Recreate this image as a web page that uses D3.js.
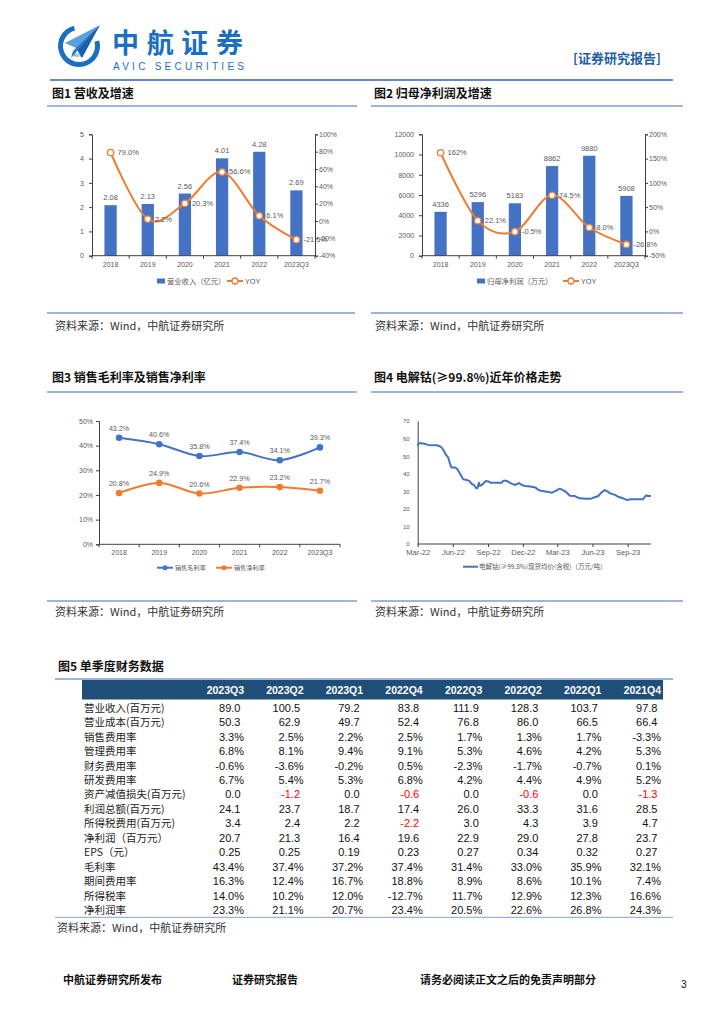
<!DOCTYPE html>
<html><head><meta charset="utf-8">
<script src="https://cdn.jsdelivr.net/npm/d3@7"></script>
<style>body{margin:0;background:#fff}svg{display:block}</style>
</head><body><svg id="page" width="724" height="1024"></svg>
<script>
// ---------------- DATA ----------------
const years = ["2018","2019","2020","2021","2022","2023Q3"];
const revenue = [2.08,2.13,2.56,4.01,4.28,2.69];
const revenueYoy = [79.0,2.2,20.3,56.6,6.1,-21.5];
const revenueTicks = [0,1,2,3,4,5];
const revenueYoyTicks = [-40,-20,0,20,40,60,80,100];
const netProfit = [4336,5296,5183,8862,9880,5908];
const netProfitYoy = [162,22.1,-0.5,74.5,8.0,-26.8];
const netProfitYoyLabels = ["162%","22.1%","-0.5%","74.5%","8.0%","-26.8%"];
const netProfitTicks = [0,2000,4000,6000,8000,10000,12000];
const netProfitYoyTicks = [-50,0,50,100,150,200];
const grossMargin = [43.2,40.6,35.8,37.4,34.1,39.3];
const netMargin = [20.8,24.9,20.6,22.9,23.2,21.7];
const marginTicks = [0,10,20,30,40,50];
const cobaltDates = ["2022-03-01","2022-03-04","2022-03-20","2022-03-28","2022-04-20","2022-04-28","2022-05-03","2022-05-07","2022-05-14","2022-05-20","2022-05-24","2022-05-28","2022-06-07","2022-06-13","2022-06-20","2022-06-28","2022-07-07","2022-07-14","2022-07-20","2022-07-26","2022-08-01","2022-08-04","2022-08-08","2022-08-11","2022-08-16","2022-08-20","2022-08-26","2022-09-03","2022-09-07","2022-09-24","2022-10-07","2022-10-11","2022-10-20","2022-10-27","2022-11-03","2022-11-11","2022-11-20","2022-11-28","2022-12-07","2022-12-20","2023-01-03","2023-01-11","2023-01-20","2023-02-03","2023-02-15","2023-02-24","2023-03-07","2023-03-16","2023-03-24","2023-04-03","2023-04-16","2023-04-28","2023-05-16","2023-05-28","2023-06-07","2023-06-16","2023-06-24","2023-07-03","2023-07-11","2023-07-17","2023-07-28","2023-08-07","2023-08-20","2023-08-31","2023-09-07","2023-09-24","2023-10-11","2023-10-16","2023-10-20","2023-10-24","2023-11-01"];
const cobaltPrice = [55.8,57.5,57.0,56.4,56.2,55.6,54.8,53.5,50.7,49.1,46.0,43.6,43.5,42.5,39.8,36.8,36.4,35.9,34.2,33.6,31.7,31.7,34.9,33.0,33.8,34.5,35.9,35.5,34.9,34.9,34.9,36.0,36.0,34.9,34.2,33.6,34.7,33.6,33.0,32.7,32.1,30.7,30.1,29.8,29.2,30.1,31.5,30.7,29.6,27.5,27.3,26.0,25.8,25.8,26.6,27.3,29.2,30.7,29.8,28.8,28.1,26.9,26.0,25.0,25.4,25.4,25.4,26.9,27.7,27.3,27.3];
const cobaltTickDates = ["2022-03-01","2022-06-01","2022-09-01","2022-12-01","2023-03-01","2023-06-01","2023-09-01"];
const cobaltDomain = ["2022-03-01","2023-11-01"];
const cobaltTicks = [0,10,20,30,40,50,60,70];
const quarters = ["2023Q3","2023Q2","2023Q1","2022Q4","2022Q3","2022Q2","2022Q1","2021Q4"];
const rowNames = ["营业收入(百万元)","营业成本(百万元)","销售费用率","管理费用率","财务费用率","研发费用率","资产减值损失(百万元)","利润总额(百万元)","所得税费用(百万元)","净利润（百万元）","EPS（元）","毛利率","期间费用率","所得税率","净利润率"];
const rowRevenue = ["89.0","100.5","79.2","83.8","111.9","128.3","103.7","97.8"];
const rowCost = ["50.3","62.9","49.7","52.4","76.8","86.0","66.5","66.4"];
const rowSellRate = ["3.3%","2.5%","2.2%","2.5%","1.7%","1.3%","1.7%","-3.3%"];
const rowMgmtRate = ["6.8%","8.1%","9.4%","9.1%","5.3%","4.6%","4.2%","5.3%"];
const rowFinRate = ["-0.6%","-3.6%","-0.2%","0.5%","-2.3%","-1.7%","-0.7%","0.1%"];
const rowRdRate = ["6.7%","5.4%","5.3%","6.8%","4.2%","4.4%","4.9%","5.2%"];
const rowImpair = ["0.0","-1.2","0.0","-0.6","0.0","-0.6","0.0","-1.3"];
const rowTotalProfit = ["24.1","23.7","18.7","17.4","26.0","33.3","31.6","28.5"];
const rowTax = ["3.4","2.4","2.2","-2.2","3.0","4.3","3.9","4.7"];
const rowNetProfit = ["20.7","21.3","16.4","19.6","22.9","29.0","27.8","23.7"];
const rowEps = ["0.25","0.25","0.19","0.23","0.27","0.34","0.32","0.27"];
const rowGross = ["43.4%","37.4%","37.2%","37.4%","31.4%","33.0%","35.9%","32.1%"];
const rowPeriodRate = ["16.3%","12.4%","16.7%","18.8%","8.9%","8.6%","10.1%","7.4%"];
const rowTaxRate = ["14.0%","10.2%","12.0%","-12.7%","11.7%","12.9%","12.3%","16.6%"];
const rowNetRate = ["23.3%","21.1%","20.7%","23.4%","20.5%","22.6%","26.8%","24.3%"];
const redRows = ["资产减值损失(百万元)","所得税费用(百万元)"];

// ---------------- PAGE ----------------
const LAT = "'Liberation Sans', Arial, 'Noto Sans CJK SC', sans-serif";
const CJK = "'Noto Sans CJK SC', 'Liberation Sans', sans-serif";
const BLUE = "#4472C4", ORANGE = "#ED7D31", TXT = "#595959", AX = "#404040", RULE = "#7f9bcf";
const svg = d3.select("#page");
svg.append("rect").attr("width",724).attr("height",1024).attr("fill","#fff");

// Header logo
const logo = svg.append("g").attr("transform","translate(79,46)");
logo.append("path").attr("d", d3.arc()({innerRadius:16, outerRadius:21, startAngle:1.3, endAngle:2*Math.PI-0.25})).attr("fill","#1a6fc0");
logo.append("path").attr("d","M21,-21 L-14,-3 L-3,2 Z").attr("fill","#5aa0dc");
logo.append("path").attr("d","M21,-21 L-3,2 L3,12 Z").attr("fill","#1a5fae");
logo.append("path").attr("d","M21,-21 L-6,5 L-8,12 Z").attr("fill","#2a78c8");
logo.append("text").attr("x",-1).attr("y",11).attr("font-size",4.5).attr("font-family",LAT).attr("fill","#1a6fc0").attr("text-anchor","middle").text("AVIC");
svg.append("text").attr("x",112).attr("y",52.5).attr("font-size",27).attr("font-weight","bold").attr("font-family",CJK).attr("fill","#1b6fc1").attr("textLength",131).text("中航证券");
svg.append("text").attr("x",113).attr("y",69.5).attr("font-size",10).attr("font-family",LAT).attr("fill","#1b6fc1").attr("textLength",131).text("AVIC  SECURITIES");
svg.append("text").attr("x",573).attr("y",63).attr("font-size",13).attr("font-weight","bold").attr("font-family",CJK).attr("fill","#1f5fa8").attr("textLength",88).text("[证券研究报告]");
svg.append("line").attr("x1",50).attr("x2",673).attr("y1",80).attr("y2",80).attr("stroke","#3266b0").attr("stroke-width",1.6);

function hline(x1,x2,y,color,w){svg.append("line").attr("x1",x1).attr("x2",x2).attr("y1",y).attr("y2",y).attr("stroke",color||RULE).attr("stroke-width",w||1.5);}
function title(x,y,t){svg.append("text").attr("x",x).attr("y",y).attr("font-size",12).attr("font-weight","bold").attr("font-family",CJK).attr("fill","#111").text(t);}
function source(x,y){svg.append("text").attr("x",x).attr("y",y).attr("font-size",11).attr("font-family",CJK).attr("fill","#333").text("资料来源：Wind，中航证券研究所");}

title(52,98,"图1  营收及增速"); title(374,98,"图2  归母净利润及增速");
hline(47,357,106); hline(371,683,106);
hline(47,355,313); hline(371,683,313);
source(55,330); source(375,330);
title(52,382,"图3  销售毛利率及销售净利率"); title(374,382,"图4  电解钴(≥99.8%)近年价格走势");
hline(47,357,392); hline(371,683,392);
hline(47,357,601); hline(371,683,601);
source(55,616); source(375,616);

function styleAxis(g,fs){
  g.select(".domain").attr("stroke",AX);
  g.selectAll(".tick line").attr("stroke",AX);
  g.selectAll(".tick text").attr("fill",TXT).attr("font-size",fs).attr("font-family",LAT);
}
function catAxis(g,x,y0,fs){
  const r = x.range();
  g.append("line").attr("x1",r[0]).attr("x2",r[1]).attr("y1",y0).attr("y2",y0).attr("stroke",AX);
  const bounds = x.domain().map(d=>x(d)).concat([r[1]]);
  g.selectAll("line.tk").data(bounds).join("line").attr("class","tk").attr("x1",d=>d).attr("x2",d=>d).attr("y1",y0).attr("y2",y0+3).attr("stroke",AX);
  g.selectAll("text.cl").data(x.domain()).join("text").attr("class","cl")
    .attr("x",d=>x(d)+x.bandwidth()/2).attr("y",y0+11).attr("text-anchor","middle")
    .attr("font-size",fs).attr("font-family",LAT).attr("fill",TXT).text(d=>d);
}

function barLine(o){
  const g = svg.append("g");
  const x = d3.scaleBand().domain(years).range([o.x0,o.x1]);
  const yL = d3.scaleLinear().domain(o.lDom).range([o.yb,o.yt]);
  const yR = d3.scaleLinear().domain(o.rDom).range([o.yb,o.yt]);
  const bw = x.bandwidth()*0.33;
  g.selectAll("rect.bar").data(o.bars).join("rect").attr("class","bar")
    .attr("x",(d,i)=>x(years[i])+x.bandwidth()/2-bw/2).attr("width",bw)
    .attr("y",d=>yL(d)).attr("height",d=>yL(0)-yL(d)).attr("fill",BLUE);
  g.selectAll("text.bl").data(o.bars).join("text").attr("class","bl")
    .attr("x",(d,i)=>x(years[i])+x.bandwidth()/2).attr("y",d=>yL(d)-5).attr("text-anchor","middle")
    .attr("font-size",7.5).attr("font-family",LAT).attr("fill",TXT).text(o.barFmt);
  const gl = g.append("g").attr("transform",`translate(${o.x0},0)`).call(d3.axisLeft(yL).tickValues(o.lTicks).tickSize(3).tickPadding(5).tickFormat(d=>d));
  styleAxis(gl,7);
  const gr = g.append("g").attr("transform",`translate(${o.x1},0)`).call(d3.axisRight(yR).tickValues(o.rTicks).tickSize(3).tickPadding(1).tickFormat(d=>d+"%"));
  styleAxis(gr,7);
  catAxis(g,x,o.yb,7);
  const pts = o.line.map((v,i)=>[x(years[i])+x.bandwidth()/2,yR(v)]);
  g.append("path").attr("d",d3.line().curve(d3.curveCardinal.tension(0))(pts)).attr("fill","none").attr("stroke",ORANGE).attr("stroke-width",2);
  g.selectAll("circle.pt").data(pts).join("circle").attr("class","pt").attr("cx",d=>d[0]).attr("cy",d=>d[1]).attr("r",3.2)
    .attr("fill","#fff").attr("stroke",ORANGE).attr("stroke-width",1.3);
  g.selectAll("text.ll").data(o.line).join("text").attr("class","ll")
    .attr("x",(d,i)=>pts[i][0]+7).attr("y",(d,i)=>pts[i][1]+2.5)
    .attr("font-size",7.5).attr("font-family",LAT).attr("fill",TXT).text((d,i)=>o.lineFmt(d,i));
  // legend
  const ly = 281;
  g.append("rect").attr("x",o.leg[0]).attr("y",ly-2.5).attr("width",8).attr("height",5).attr("fill",BLUE);
  g.append("text").attr("x",o.leg[0]+10).attr("y",ly+2.5).attr("font-size",7.3).attr("font-family",CJK).attr("fill",TXT).text(o.legText);
  g.append("line").attr("x1",o.leg[1]).attr("x2",o.leg[1]+16).attr("y1",ly).attr("y2",ly).attr("stroke",ORANGE).attr("stroke-width",2);
  g.append("circle").attr("cx",o.leg[1]+8).attr("cy",ly).attr("r",3).attr("fill","#fff").attr("stroke",ORANGE).attr("stroke-width",1.3);
  g.append("text").attr("x",o.leg[1]+18).attr("y",ly+2.5).attr("font-size",7.3).attr("font-family",LAT).attr("fill",TXT).text("YOY");
}

barLine({x0:92,x1:315,yt:134.3,yb:255.7,lDom:[0,5],rDom:[-40,100],bars:revenue,line:revenueYoy,
  lTicks:revenueTicks,rTicks:revenueYoyTicks,barFmt:d=>d.toFixed(2),lineFmt:d=>d.toFixed(1)+"%",
  leg:[157,227],legText:"营业收入（亿元）"});
barLine({x0:422,x1:645,yt:134.3,yb:255.7,lDom:[0,12000],rDom:[-50,200],bars:netProfit,line:netProfitYoy,
  lTicks:netProfitTicks,rTicks:netProfitYoyTicks,barFmt:d=>d,lineFmt:(d,i)=>netProfitYoyLabels[i],
  leg:[477,563],legText:"归母净利润（万元）"});

// Chart 3
(function(){
  const g = svg.append("g");
  const x = d3.scaleBand().domain(years).range([99,340]);
  const y = d3.scaleLinear().domain([0,50]).range([544.3,421]);
  const ga = g.append("g").attr("transform","translate(99,0)").call(d3.axisLeft(y).tickValues(marginTicks).tickSize(3).tickPadding(3).tickFormat(d=>d+"%"));
  styleAxis(ga,7);
  catAxis(g,x,544.3,7);
  [[grossMargin,BLUE],[netMargin,ORANGE]].forEach(([arr,c])=>{
    const pts = arr.map((v,i)=>[x(years[i])+x.bandwidth()/2,y(v)]);
    g.append("path").attr("d",d3.line().curve(d3.curveCardinal.tension(0))(pts)).attr("fill","none").attr("stroke",c).attr("stroke-width",2);
    g.selectAll(null).data(pts).join("circle").attr("cx",d=>d[0]).attr("cy",d=>d[1]).attr("r",3.3).attr("fill",c);
    g.selectAll(null).data(arr).join("text").attr("x",(d,i)=>pts[i][0]).attr("y",(d,i)=>pts[i][1]-7)
      .attr("text-anchor","middle").attr("font-size",7.2).attr("font-family",LAT).attr("fill",TXT).text(d=>d.toFixed(1)+"%");
  });
  const ly=567.7;
  [[157,BLUE,"销售毛利率"],[216,ORANGE,"销售净利率"]].forEach(([lx,c,t])=>{
    g.append("line").attr("x1",lx).attr("x2",lx+16).attr("y1",ly).attr("y2",ly).attr("stroke",c).attr("stroke-width",2);
    g.append("circle").attr("cx",lx+8).attr("cy",ly).attr("r",2.5).attr("fill",c);
    g.append("text").attr("x",lx+18).attr("y",ly+2.2).attr("font-size",6.2).attr("font-family",CJK).attr("fill",TXT).text(t);
  });
})();

// Chart 4
(function(){
  const parse = d3.timeParse("%Y-%m-%d");
  const g = svg.append("g");
  const x = d3.scaleTime().domain(cobaltDomain.map(parse)).range([417.7,651]);
  const y = d3.scaleLinear().domain([0,70]).range([544,421]);
  const ga = g.append("g").attr("transform","translate(417.7,0)").call(d3.axisLeft(y).tickValues(cobaltTicks).tickSize(0).tickPadding(8));
  styleAxis(ga,6);
  const gb = g.append("g").attr("transform","translate(0,544)").call(d3.axisBottom(x).tickValues(cobaltTickDates.map(parse)).tickSize(3).tickPadding(3).tickFormat(d3.timeFormat("%b-%y")));
  styleAxis(gb,7.5);
  gb.select(".domain").attr("d","M417.7,0H651");
  const data = cobaltDates.map((d,i)=>[x(parse(d)),y(cobaltPrice[i])]);
  g.append("path").attr("d",d3.line()(data)).attr("fill","none").attr("stroke",BLUE).attr("stroke-width",2).attr("stroke-linejoin","round");
  g.append("line").attr("x1",463).attr("x2",478).attr("y1",566.7).attr("y2",566.7).attr("stroke",BLUE).attr("stroke-width",2);
  g.append("text").attr("x",479).attr("y",569).attr("font-size",6.5).attr("font-family",CJK).attr("fill",TXT).text("电解钴(≥99.8%)现货均价(含税)（万元/吨）");
})();

// Table
(function(){
  title(58,671,"图5  单季度财务数据");
  hline(55,673,679);
  const g = svg.append("g");
  g.append("rect").attr("x",82).attr("y",680).attr("width",581).attr("height",19.5).attr("fill","#1f4e79");
  const colX = d3.scaleLinear().domain([0,7]).range([244,661]);
  g.selectAll(null).data(quarters).join("text").attr("x",(d,i)=>colX(i)).attr("y",693.8).attr("text-anchor","end")
    .attr("font-size",10.5).attr("font-weight","bold").attr("font-family",LAT).attr("fill","#fff").text(d=>d);
  const rows = [rowRevenue,rowCost,rowSellRate,rowMgmtRate,rowFinRate,rowRdRate,rowImpair,rowTotalProfit,rowTax,rowNetProfit,rowEps,rowGross,rowPeriodRate,rowTaxRate,rowNetRate];
  const rowY = d3.scaleLinear().domain([0,14]).range([707.7,910]);
  rows.forEach((vals,r)=>{
    const cy = rowY(r);
    g.append("text").attr("x",84).attr("y",cy+4).attr("font-size",10.5).attr("font-family",CJK).attr("fill","#222").text(rowNames[r]);
    g.selectAll(null).data(vals).join("text")
      .attr("x",(d,i)=>colX(i)-(d.endsWith("%")?0:3.5)).attr("y",cy+4).attr("text-anchor","end")
      .attr("font-size",11).attr("font-family",LAT)
      .attr("fill",d=>(redRows.includes(rowNames[r]) && d.startsWith("-"))?"#ff0000":"#111").text(d=>d);
  });
  hline(55,673,917.3,"#9fb3d6",1.2);
  source(57,932);
})();

// Footer
svg.append("text").attr("x",63).attr("y",984).attr("font-size",11).attr("font-weight","bold").attr("font-family",CJK).attr("fill","#111").text("中航证券研究所发布");
svg.append("text").attr("x",232).attr("y",984).attr("font-size",11).attr("font-weight","bold").attr("font-family",CJK).attr("fill","#111").text("证券研究报告");
svg.append("text").attr("x",420).attr("y",984).attr("font-size",11).attr("font-weight","bold").attr("font-family",CJK).attr("fill","#111").text("请务必阅读正文之后的免责声明部分");
svg.append("text").attr("x",681).attr("y",988).attr("font-size",10).attr("font-family",LAT).attr("fill","#111").text("3");
</script></body></html>
